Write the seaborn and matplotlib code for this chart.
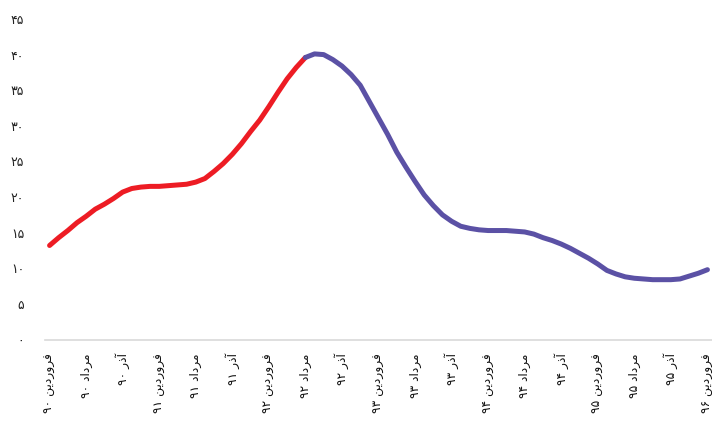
import pandas as pd
import matplotlib
matplotlib.use("Agg")
import matplotlib.pyplot as plt
import seaborn as sns

# مقادیر ماهانه (از فروردین ۹۰ تا فروردین ۹۶)
values = [
    13.2, 14.3, 15.3, 16.4, 17.3, 18.3, 19.0, 19.8, 20.7, 21.2,
    21.4, 21.5, 21.5, 21.6, 21.7, 21.8, 22.1, 22.6, 23.6, 24.7,
    26.0, 27.5, 29.2, 30.8, 32.7, 34.7, 36.6, 38.2, 39.6, 40.1,
    40.0, 39.3, 38.4, 37.2, 35.7, 33.4, 31.1, 28.8, 26.3, 24.2,
    22.2, 20.3, 18.8, 17.5, 16.6, 15.9, 15.6, 15.4, 15.3, 15.3,
    15.3, 15.2, 15.1, 14.8, 14.3, 13.9, 13.4, 12.8, 12.1, 11.4,
    10.6, 9.7, 9.2, 8.8, 8.6, 8.5, 8.4, 8.4, 8.4, 8.5,
    8.9, 9.3, 9.8,
]
split_idx = 28  # مرداد ۹۲: پایان بخش قرمز

months = ["فروردین", "مرداد", "آذر"]
years = ["۹۰", "۹۱", "۹۲", "۹۳", "۹۴", "۹۵"]
last_label = ("فروردین", "۹۶")
yticks = [0, 5, 10, 15, 20, 25, 30, 35, 40, 45]

# --- شکل دهی ساده حروف فارسی (matplotlib خودش این کار را نمی کند)
# (isolated, final, initial, medial)
forms = {
    "ف": ("\uFED1", "\uFED2", "\uFED3", "\uFED4"),
    "ر": ("\uFEAD", "\uFEAE", None, None),
    "و": ("\uFEED", "\uFEEE", None, None),
    "د": ("\uFEA9", "\uFEAA", None, None),
    "ذ": ("\uFEAB", "\uFEAC", None, None),
    "ی": ("\uFBFC", "\uFBFD", "\uFBFE", "\uFBFF"),
    "ن": ("\uFEE5", "\uFEE6", "\uFEE7", "\uFEE8"),
    "م": ("\uFEE1", "\uFEE2", "\uFEE3", "\uFEE4"),
    "ا": ("\uFE8D", "\uFE8E", None, None),
    "آ": ("\uFE81", "\uFE82", None, None),
}


def shape(word):
    out = []
    for i, ch in enumerate(word):
        f = forms.get(ch)
        if f is None:
            out.append(ch)
            continue
        prev = word[i - 1] if i > 0 else None
        nxt = word[i + 1] if i < len(word) - 1 else None
        join_prev = prev in forms and forms[prev][2] is not None
        join_next = nxt in forms and f[2] is not None
        if join_prev and join_next:
            out.append(f[3])
        elif join_prev:
            out.append(f[1])
        elif join_next:
            out.append(f[2])
        else:
            out.append(f[0])
    return "".join(reversed(out))


def label(month, year):
    # ترتیب دیداری: عدد سمت چپ، کلمه سمت راست
    return year + " " + shape(month)


tick_labels = [label(m, y) for y in years for m in months] + [label(*last_label)]
tick_pos = list(range(0, len(values), 4))

idx = list(range(len(values)))
df = pd.concat([
    pd.DataFrame({"month": idx[:split_idx + 1], "value": values[:split_idx + 1], "part": "a"}),
    pd.DataFrame({"month": idx[split_idx:], "value": values[split_idx:], "part": "b"}),
])

sns.set_style("white")
plt.rcParams["font.family"] = ["DejaVu Sans"]

fig = plt.figure(figsize=(7.12, 4.25), dpi=100)
ax = fig.add_axes([45 / 712, 1 - 339.5 / 425, 667 / 712, (339.5 - 19) / 425])

sns.lineplot(data=df, x="month", y="value", hue="part", sort=False,
             palette={"a": "#ED1C24", "b": "#5B51A5"}, linewidth=3.6,
             legend=False, ax=ax, solid_capstyle="round")

ax.set_xlim(-0.5, len(values) - 0.5)
ax.set_ylim(0, 45)
ax.set_yticks(yticks)
ax.set_yticklabels(["".join("۰۱۲۳۴۵۶۷۸۹"[int(c)] for c in str(v)) for v in yticks])
ax.set_xticks(tick_pos)
ax.set_xticklabels(tick_labels, rotation=90, va="top", ha="center")
ax.tick_params(axis="y", length=0, pad=15, labelsize=9, labelcolor="#222222")
ax.tick_params(axis="x", length=0, pad=10, labelsize=8.8, labelcolor="#111111")
ax.set_xlabel("")
ax.set_ylabel("")

for s in ["top", "right", "left"]:
    ax.spines[s].set_visible(False)
ax.spines["bottom"].set_color("#D9D9D9")
ax.spines["bottom"].set_linewidth(1.2)

fig.savefig("out.png", dpi=100)
